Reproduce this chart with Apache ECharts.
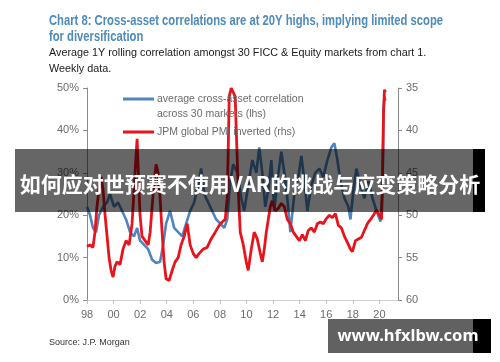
<!DOCTYPE html>
<html><head><meta charset="utf-8">
<script src="https://cdn.jsdelivr.net/npm/echarts@6/dist/echarts.min.js"></script>
<style>html,body{margin:0;padding:0;background:#fff}#c{width:500px;height:362px}</style>
</head><body><div id="c"></div>
<script>
// Average cross-asset correlation (lhs, %)
const corrYears = [1998.00,1998.23,1998.45,1998.68,1998.90,1999.21,1999.51,1999.73,2000.03,2000.34,2000.64,2000.94,2001.24,2001.54,2001.77,2001.99,2002.30,2002.60,2002.90,2003.20,2003.50,2003.73,2003.95,2004.25,2004.56,2004.86,2005.16,2005.46,2005.76,2006.06,2006.36,2006.59,2006.82,2007.12,2007.42,2007.72,2008.03,2008.33,2008.55,2008.78,2009.00,2009.31,2009.61,2009.83,2010.13,2010.44,2010.74,2010.96,2011.19,2011.41,2011.64,2011.87,2012.09,2012.32,2012.62,2012.85,2013.07,2013.30,2013.60,2013.90,2014.13,2014.36,2014.58,2014.88,2015.18,2015.48,2015.78,2016.09,2016.39,2016.61,2016.84,2017.07,2017.37,2017.67,2017.82,2018.05,2018.27,2018.57,2018.87,2019.18,2019.48,2019.78,2020.08,2020.23,2020.31,2020.38,2020.46];
const corrValues = [22,20,17,16,20,22,23,25,22,23,21,19,16,15,17,14,13,12,9.5,8.7,9,13,18,21,17,16,15,18,21,23,27,31,25,23,21,19,18,17,19,28,32,30,24,21,27,33,30,36,30,22,26,33,21,28,35,30,24,16,25,29,34,28,21,27,30,31,29,33,36,37,33,28,24,22,19,26,31,27,24,28,24,21,18.5,25,45,48,47];
// JPM global PMI (rhs, inverted)
const pmiYears = [1998.00,1998.23,1998.45,1998.60,1998.75,1998.90,1999.06,1999.21,1999.36,1999.51,1999.66,1999.81,1999.96,2000.11,2000.26,2000.49,2000.71,2000.94,2001.17,2001.39,2001.54,2001.69,2001.77,2001.84,2001.99,2002.14,2002.37,2002.60,2002.75,2002.90,2003.05,2003.20,2003.35,2003.50,2003.65,2003.80,2003.95,2004.18,2004.41,2004.63,2004.86,2005.08,2005.31,2005.54,2005.76,2005.99,2006.21,2006.44,2006.74,2007.04,2007.34,2007.65,2007.95,2008.17,2008.40,2008.55,2008.63,2008.70,2008.85,2009.00,2009.15,2009.23,2009.38,2009.53,2009.76,2009.98,2010.13,2010.36,2010.58,2010.81,2011.04,2011.19,2011.34,2011.49,2011.64,2011.79,2011.94,2012.17,2012.39,2012.62,2012.85,2013.07,2013.30,2013.52,2013.75,2013.98,2014.20,2014.43,2014.65,2014.88,2015.11,2015.33,2015.56,2015.78,2016.01,2016.24,2016.46,2016.69,2016.91,2017.14,2017.37,2017.59,2017.82,2017.97,2018.20,2018.42,2018.65,2018.87,2019.10,2019.33,2019.55,2019.78,2019.93,2020.08,2020.16,2020.23,2020.31,2020.38,2020.46];
const pmiValues = [53.7,53.5,53.8,52,49,47,45.5,47,50,52.5,55,56.5,57.3,56,55.5,55.8,54,53,53.5,51,47,43,41,44,50,52.5,53,53.5,52,49,46,44,45,48,52,55.5,57.5,57.7,56.5,55.5,55,53.5,52.5,51,53.5,54.5,55,54.5,54,53.8,52.8,52,51.2,50.8,50.5,48,42,36,35,35.5,36,40,47,52,53.5,55.5,56.5,54,52,52.8,54.5,55.5,54,52,50.5,49,48.3,49.5,49.2,48.6,49,50.5,51,52,52.5,53,52.3,53,51.8,51.5,52,51,50.8,51,50.4,50,50.3,49.8,51.2,51.5,52.5,53.2,54,54.3,53,52.8,52.6,51.8,51,50.5,50,49.4,49.8,49.7,50.5,46,38,35.2,35.5];
// Axis ticks
const xTickYears = [1998,2000,2002,2004,2006,2008,2010,2012,2014,2016,2018,2020];
const leftTicks = [0,10,20,30,40,50];
const rightTicks = [35,40,45,50,55,60];
const seriesNames = ['average cross-asset correlation\nacross 30 markets (lhs)','JPM global PMI inverted (rhs)'];
const titleLines = ['Chart 8: Cross-asset correlations are at 20Y highs, implying limited scope','for diversification'];

const FONT = '"Liberation Sans", Arial, sans-serif';
// fit the (condensed) title to its width in the reference
const mctx = document.createElement('canvas').getContext('2d');
mctx.font = 'bold 15px "Liberation Sans"';
const titleScale = 394 / mctx.measureText(titleLines[0]).width;

const chart = echarts.init(document.getElementById('c'), null, {renderer:'canvas'});
const txt = (x,y,text,size,color,extra) => ({type:'text', z:50, style:Object.assign({x:x,y:y,text:text,fontSize:size,fontFamily:FONT,fill:color,verticalAlign:'middle',textVerticalAlign:'middle'}, extra||{})});
const titleTxt = (y,text) => ({type:'text', z:50, x:49, y:y, scaleX:titleScale, style:{x:0,y:0,text:text,fontSize:15,fontWeight:'bold',fontFamily:FONT,fill:'#4d8bbb',verticalAlign:'middle',textVerticalAlign:'middle'}});

chart.setOption({
  animation:false,
  backgroundColor:'#ffffff',
  grid:{left:87,right:102,top:88,bottom:62,containLabel:false},
  xAxis:{type:'value',min:xTickYears[0],max:2021.4,interval:2,
    axisLine:{lineStyle:{color:'#d0d0d0',width:1}},
    axisTick:{show:true,length:4,lineStyle:{color:'#c0c0c0'}},
    axisLabel:{color:'#6b6b6b',fontSize:11,fontFamily:FONT,margin:9,showMaxLabel:false,
      formatter:v=> xTickYears.indexOf(v)>=0 ? String(v).slice(2) : ''},
    splitLine:{show:false}},
  yAxis:[
    {type:'value',min:leftTicks[0],max:leftTicks[leftTicks.length-1],interval:10,position:'left',
      axisLine:{show:true,lineStyle:{color:'#8a8a8a'}},
      axisTick:{show:true,length:4,lineStyle:{color:'#8a8a8a'}},
      axisLabel:{color:'#6b6b6b',fontSize:11,fontFamily:FONT,margin:8,formatter:'{value}%'},
      splitLine:{show:false}},
    {type:'value',min:rightTicks[0],max:rightTicks[rightTicks.length-1],interval:5,position:'right',inverse:true,
      axisLine:{show:true,lineStyle:{color:'#8a8a8a'}},
      axisTick:{show:true,length:4,lineStyle:{color:'#8a8a8a'}},
      axisLabel:{color:'#6b6b6b',fontSize:11,fontFamily:FONT,margin:8},
      splitLine:{show:false}}
  ],
  series:[
    {name:seriesNames[0],type:'line',yAxisIndex:0,showSymbol:false,symbol:'none',
      lineStyle:{color:'#4f84bf',width:2.6},z:2,
      data:corrYears.map((y,i)=>[y,corrValues[i]])},
    {name:seriesNames[1],type:'line',yAxisIndex:1,showSymbol:false,symbol:'none',
      lineStyle:{color:'#e8131b',width:2.8},z:3,
      data:pmiYears.map((y,i)=>[y,pmiValues[i]])}
  ],
  graphic:[
    titleTxt(21,titleLines[0]),
    titleTxt(37,titleLines[1]),
    txt(49,53,'Average 1Y rolling correlation amongst 30 FICC & Equity markets from chart 1.',10.8,'#1a1a1a'),
    txt(49,69,'Weekly data.',10.8,'#1a1a1a'),
    {type:'line',z:50,shape:{x1:123,y1:99,x2:154,y2:99},style:{stroke:'#4f84bf',lineWidth:3}},
    txt(157,99,'average cross-asset correlation',10.5,'#6b6b6b'),
    txt(157,114,'across 30 markets (lhs)',10.5,'#6b6b6b'),
    {type:'line',z:50,shape:{x1:123,y1:132,x2:154,y2:132},style:{stroke:'#e8131b',lineWidth:3}},
    txt(157,132,'JPM global PMI inverted (rhs)',10.5,'#6b6b6b'),
    txt(49,343,'Source: J.P. Morgan',9,'#333333'),
    // overlay banner
    {type:'rect',z:100,shape:{x:15,y:149,width:458,height:63},style:{fill:'rgba(0,0,0,0.6)'}},
    {type:'rect',z:100,shape:{x:473,y:149,width:12,height:63},style:{fill:'#000000'}},
    {type:'text',z:101,style:{x:250,y:184,text:'如何应对世预赛不使用VAR的挑战与应变策略分析',fontSize:21,fontWeight:'bold',fontFamily:'"Noto Sans CJK SC", "Noto Sans", sans-serif',fill:'#ffffff',align:'center',textAlign:'center',verticalAlign:'middle',textVerticalAlign:'middle'}},
    // watermark
    {type:'rect',z:100,shape:{x:328,y:319,width:145,height:34},style:{fill:'rgba(0,0,0,0.62)'}},
    {type:'rect',z:100,shape:{x:473,y:319,width:18,height:34},style:{fill:'#000000'}},
    {type:'text',z:101,style:{x:408,y:336,text:'www.hfxlbw.com',fontSize:16.5,fontWeight:'bold',fontFamily:'"Noto Sans", "DejaVu Sans", sans-serif',fill:'#ffffff',align:'center',textAlign:'center',verticalAlign:'middle',textVerticalAlign:'middle'}}
  ]
});
</script>
</body></html>
